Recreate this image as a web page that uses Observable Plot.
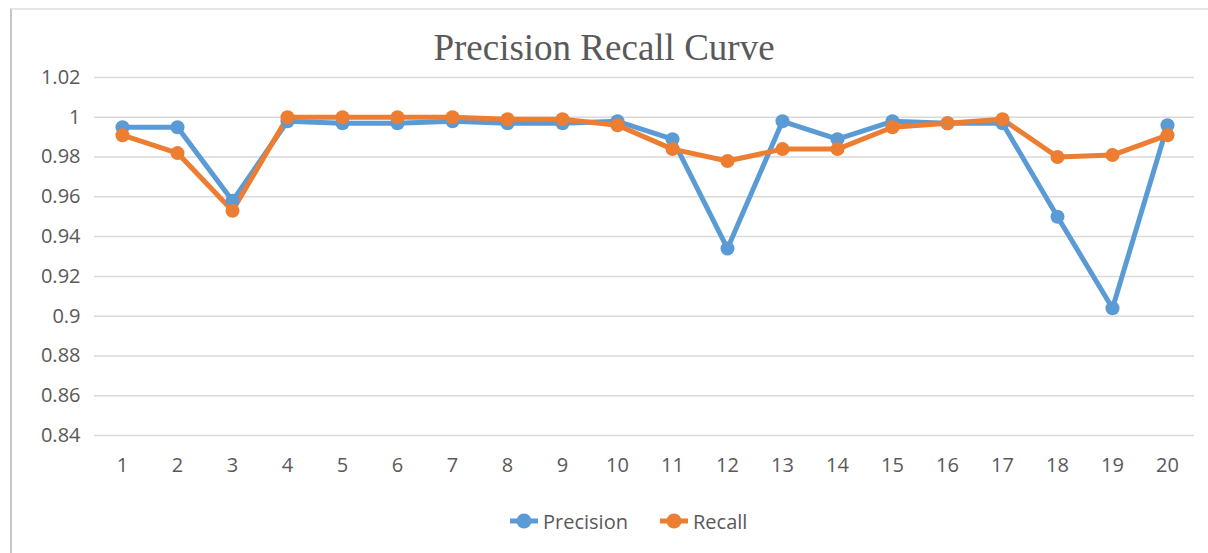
<!DOCTYPE html>
<html>
<head>
<meta charset="utf-8">
<script src="https://cdn.jsdelivr.net/npm/d3@7"></script>
<script src="https://cdn.jsdelivr.net/npm/@observablehq/plot@0.6"></script>
<style>
  html, body { margin: 0; padding: 0; background: #fff; }
  #wrap { position: relative; width: 1208px; height: 553px; overflow: hidden; background: #fff; }
  #frame { position: absolute; left: 10px; top: 8px; width: 1200px; height: 560px;
           border-top: 2px solid #e6e6e6; border-left: 2px solid #c6c6c6; box-sizing: border-box; }
  #title { position: absolute; left: 0; width: 1208px; top: 28px; text-align: center;
           font-family: "Liberation Serif", "Times New Roman", serif; font-size: 37px; color: #595959; line-height: 40px; }
  #chart { position: absolute; left: 0; top: 0; }
  #legend { position: absolute; top: 507px; left: 0; width: 1208px; height: 28px;
            font-family: "Open Sans", sans-serif; font-size: 20px; color: #595959; }
  .item { position: absolute; top: 0; height: 28px; display: flex; align-items: center; }
  .item svg { margin-right: 5px; }
</style>
</head>
<body>
<div id="wrap">
  <div id="frame"></div>
  <div id="title">Precision Recall Curve</div>
  <div id="chart"></div>
  <div id="legend"></div>
</div>
<script>
const categories = ["1","2","3","4","5","6","7","8","9","10","11","12","13","14","15","16","17","18","19","20"];
const precision = [0.995, 0.995, 0.958, 0.998, 0.997, 0.997, 0.998, 0.997, 0.997, 0.998, 0.989, 0.934, 0.998, 0.989, 0.998, 0.997, 0.997, 0.950, 0.904, 0.996];
const recall    = [0.991, 0.982, 0.953, 1.000, 1.000, 1.000, 1.000, 0.999, 0.999, 0.996, 0.984, 0.978, 0.984, 0.984, 0.995, 0.997, 0.999, 0.980, 0.981, 0.991];
const yTicks = [0.84, 0.86, 0.88, 0.9, 0.92, 0.94, 0.96, 0.98, 1, 1.02];
const seriesNames = ["Precision", "Recall"];
const seriesColors = ["#5B9BD5", "#ED7D31"];

const rows = [];
seriesNames.forEach((s, si) => {
  const vals = si === 0 ? precision : recall;
  categories.forEach((c, i) => rows.push({series: s, x: c, y: vals[i]}));
});

const chart = Plot.plot({
  width: 1208,
  height: 553,
  marginLeft: 94,
  marginRight: 14,
  marginTop: 77,
  marginBottom: 118,
  style: {color: "#595959", fontFamily: "Open Sans, sans-serif", fontSize: "20px", background: "transparent"},
  x: {type: "point", domain: categories, padding: 0.5},
  y: {domain: [0.84, 1.02]},
  color: {domain: seriesNames, range: seriesColors},
  marks: [
    Plot.ruleY(yTicks, {stroke: "#d9d9d9", strokeWidth: 1.5}),
    Plot.axisY({ticks: yTicks, tickSize: 0, tickPadding: 14, fontSize: 20, label: null,
                tickFormat: d => String(+d.toFixed(2))}),
    Plot.axisX({tickSize: 0, tickPadding: 22, fontSize: 20, label: null}),
    ...seriesNames.map((s, si) => Plot.line(rows.filter(r => r.series === s),
        {x: "x", y: "y", stroke: seriesColors[si], strokeWidth: 5, strokeLinejoin: "round"})),
    ...seriesNames.map((s, si) => Plot.dot(rows.filter(r => r.series === s),
        {x: "x", y: "y", fill: seriesColors[si], r: 7, stroke: "none"}))
  ]
});
document.getElementById("chart").appendChild(chart);

const legend = document.getElementById("legend");
const lefts = [510, 660];
seriesNames.forEach((s, i) => {
  const it = document.createElement("div");
  it.className = "item";
  it.style.left = lefts[i] + "px";
  it.innerHTML = `<svg width="28" height="18"><line x1="0" y1="9" x2="28" y2="9" stroke="${seriesColors[i]}" stroke-width="5"/><circle cx="14" cy="9" r="7.5" fill="${seriesColors[i]}"/></svg><span>${s}</span>`;
  legend.appendChild(it);
});
</script>
</body>
</html>
